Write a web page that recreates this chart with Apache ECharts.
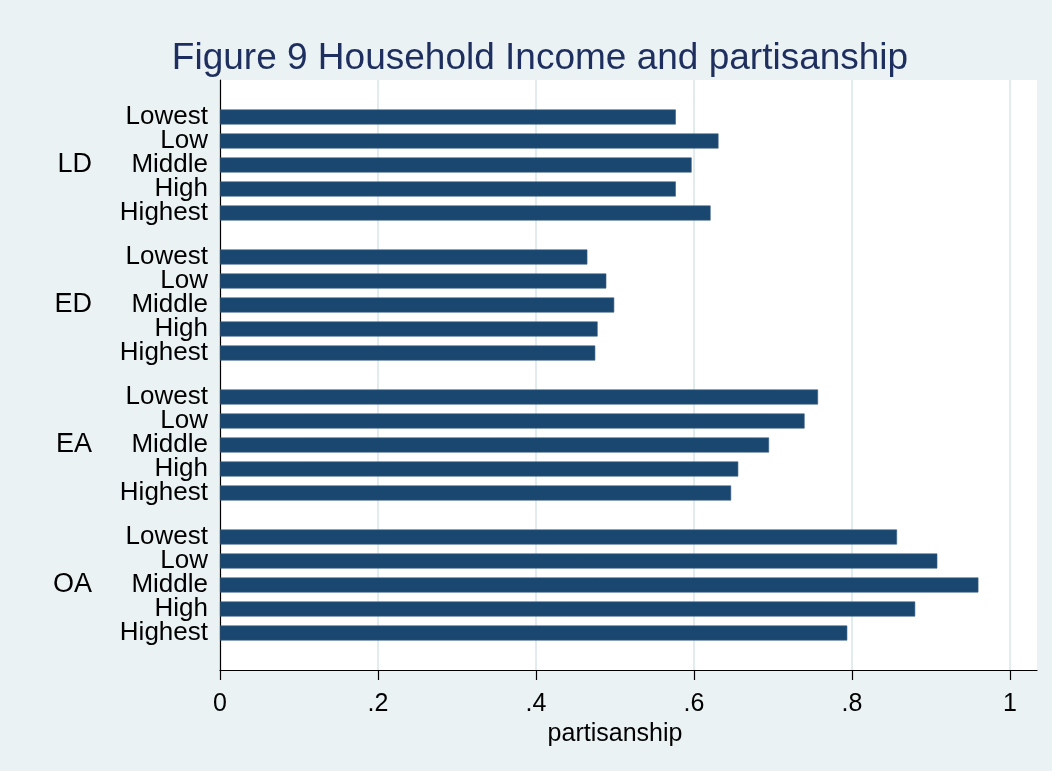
<!DOCTYPE html>
<html>
<head>
<meta charset="utf-8">
<script src="https://cdn.jsdelivr.net/npm/echarts@6/dist/echarts.min.js"></script>
<style>
html,body{margin:0;padding:0;background:#eaf2f3;}
#chart{width:1052px;height:771px;}
</style>
</head>
<body>
<div id="chart"></div>
<script>
const titleText = 'Figure 9 Household Income and partisanship';
const groups = ['LD', 'ED', 'EA', 'OA'];
const incomeLevels = ['Lowest', 'Low', 'Middle', 'High', 'Highest'];
const ldValues = [0.577, 0.631, 0.597, 0.577, 0.621];
const edValues = [0.465, 0.489, 0.499, 0.478, 0.475];
const eaValues = [0.757, 0.740, 0.695, 0.656, 0.647];
const oaValues = [0.857, 0.908, 0.960, 0.880, 0.794];
const xTickValues = [0, 0.2, 0.4, 0.6, 0.8, 1];
const xTickLabels = ['0', '.2', '.4', '.6', '.8', '1'];
const xAxisTitle = 'partisanship';

const groupValues = [ldValues, edValues, eaValues, oaValues];

const FONT = 'Liberation Sans, Arial, Helvetica, sans-serif';
const BAR = '#1a476f';
const GRIDLINE = '#e2ebee';

const plotLeft = 220, regionRight = 15, scaleRight = 42, plotTop = 80, plotBottom = 101;
const slot = 24, groupPad = 25, groupStep = 140;

// grid 0: white plot region with axis lines
const grids = [{
  left: plotLeft, right: regionRight, top: plotTop, bottom: plotBottom,
  show: true, backgroundColor: '#ffffff', borderWidth: 0
}, {
  // grid 1: value scale 0..1 (ticks, labels, gridlines)
  left: plotLeft, right: scaleRight, top: plotTop, bottom: plotBottom
}];
const xAxes = [{
  gridIndex: 0, type: 'value', min: 0, max: 1,
  axisLine: { show: true, lineStyle: { color: '#000', width: 1.2 } },
  axisTick: { show: false }, axisLabel: { show: false }, splitLine: { show: false }
}, {
  gridIndex: 1, type: 'value', min: 0, max: 1, interval: 0.2,
  axisLine: { show: false },
  axisTick: { show: true, length: 10, inside: false, lineStyle: { color: '#000', width: 1.2 } },
  axisLabel: {
    fontSize: 25, color: '#000', fontFamily: FONT, margin: 22,
    formatter: v => {
      const i = xTickValues.findIndex(t => Math.abs(t - v) < 1e-9);
      return i >= 0 ? xTickLabels[i] : '';
    }
  },
  splitLine: { show: true, lineStyle: { color: GRIDLINE, width: 2 } },
  name: xAxisTitle, nameLocation: 'middle', nameGap: 46,
  nameTextStyle: { fontSize: 25, color: '#000', fontFamily: FONT }
}];
const yAxes = [{
  gridIndex: 0, type: 'value', min: 0, max: 1,
  axisLine: { show: true, lineStyle: { color: '#000', width: 1.2 } },
  axisTick: { show: false }, axisLabel: { show: false }, splitLine: { show: false }
}, {
  gridIndex: 1, type: 'value', min: 0, max: 1, show: false
}];
const series = [];

groups.forEach((g, gi) => {
  const idx = gi + 2;
  grids.push({
    left: plotLeft, right: scaleRight,
    top: plotTop + groupPad + gi * groupStep,
    height: slot * incomeLevels.length
  });
  xAxes.push({ gridIndex: idx, type: 'value', min: 0, max: 1, show: false });
  yAxes.push({
    gridIndex: idx, type: 'category', inverse: true, data: incomeLevels,
    axisLine: { show: false }, axisTick: { show: false },
    axisLabel: { interval: 0, fontSize: 26, color: '#000', fontFamily: FONT, margin: 12, padding: [5, 0, 0, 0] },
    splitLine: { show: false },
    name: g, nameLocation: 'middle', nameRotate: 0, nameGap: 128, nameMoveOverlap: false,
    nameTextStyle: { fontSize: 27, color: '#000', fontFamily: FONT, padding: [5, 0, 0, 0] }
  });
  series.push({
    type: 'bar', name: g, xAxisIndex: idx, yAxisIndex: idx,
    data: groupValues[gi], barWidth: 15,
    itemStyle: { color: BAR, borderColor: '#3d6185', borderWidth: 0.6 },
    animation: false, silent: true
  });
});

const chart = echarts.init(document.getElementById('chart'), null, { renderer: 'canvas' });
chart.setOption({
  backgroundColor: '#eaf2f3',
  animation: false,
  title: {
    text: titleText, left: 535, top: 35, textAlign: 'center',
    textStyle: { fontSize: 37, fontWeight: 'normal', color: '#1e2f5f', fontFamily: FONT }
  },
  grid: grids,
  xAxis: xAxes,
  yAxis: yAxes,
  series: series
});
</script>
</body>
</html>
